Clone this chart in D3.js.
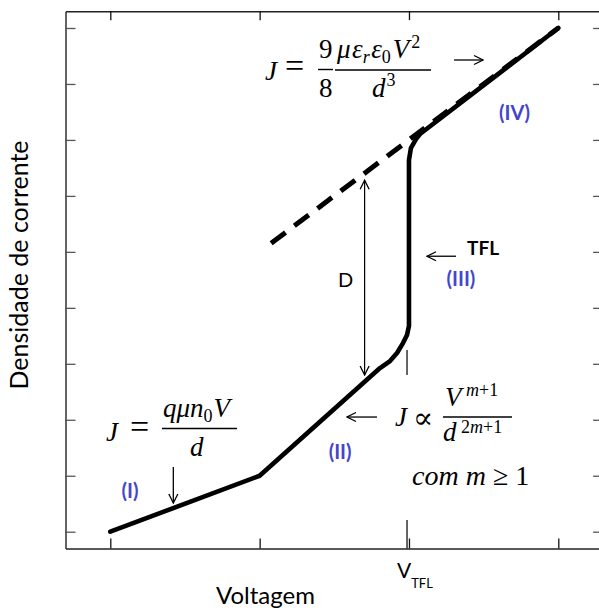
<!DOCTYPE html>
<html>
<head>
<meta charset="utf-8">
<script src="https://cdn.jsdelivr.net/npm/d3@7"></script>
<style>
  body { margin: 0; background: #fff; }
  svg { display: block; }
</style>
</head>
<body>
<div id="chart"></div>
<script>
const WIDTH = 599;
const HEIGHT = 610;
const SANS = 'Lato, "Open Sans", sans-serif';
const SERIF = '"Liberation Serif", "DejaVu Serif", serif';
const BLUE = '#4545cc';
const MATH = 27;
const SUB = 18;

// ticks (no numeric labels in the original)
const xTicks = [1, 2, 3, 4];
const yTicks = [1, 2, 3, 4, 5, 6, 7, 8, 9, 10];

// J-V curve (arbitrary units)
const curveV = [1, 2, 2.806, 2.873, 2.920, 2.960, 2.987, 3.0, 3.0, 3.013, 3.047, 3.074, 4];
const curveJ = [1, 2, 3.924, 4.049, 4.192, 4.370, 4.514, 4.675, 7.641, 7.855, 8.016, 8.106, 10];

// trap-free (Child) law, dashed
const childV = [2.077, 4];
const childJ = [6.155, 10];

// V_TFL guide
const vTFL = 2.987;
const guideJ = [0.7, 4.247];

// annotation arrows: [x1, y1, x2, y2]
const arrows = [
    [3.302, 9.428, 3.496, 9.428],
    [1.422, 2.156, 1.422, 1.513],
    [2.786, 3.049, 2.585, 3.049],
    [3.315, 5.922, 3.121, 5.922]
];
const dArrow = [2.703, 3.80, 2.703, 7.28];

// region labels: [text, x, y]
const regions = [
    ['(I)', 1.132, 1.602],
    ['(II)', 2.539, 2.299],
    ['(III)', 3.348, 5.392],
    ['(IV)', 3.707, 8.356]
];

const x = d3.scaleLinear().domain([0.7, 4.3]).range([65.5, 603.1]);
const y = d3.scaleLinear().domain([0.7, 10.3]).range([548.5, 11.2]);

const svg = d3.select('#chart')
    .append('svg')
    .attr('width', WIDTH)
    .attr('height', HEIGHT);

const defs = svg.append('defs');
defs.append('marker')
    .attr('id', 'arr')
    .attr('viewBox', '-11 -6 12 12')
    .attr('refX', 0)
    .attr('refY', 0)
    .attr('markerWidth', 12)
    .attr('markerHeight', 12)
    .attr('markerUnits', 'userSpaceOnUse')
    .attr('orient', 'auto-start-reverse')
    .append('path')
    .attr('d', 'M-9,-4.5L0,0L-9,4.5')
    .attr('fill', 'none')
    .attr('stroke', '#000')
    .attr('stroke-width', 1.3);

// axes, ticks pointing inwards
function styleAxis(g, color) {
    g.selectAll('path').attr('stroke', '#222').attr('stroke-width', 1.4);
    g.selectAll('line').attr('stroke', color).attr('stroke-width', 1.3);
}
svg.append('g')
    .attr('transform', `translate(0,${y(0.7)})`)
    .call(d3.axisBottom(x).tickValues(xTicks).tickSize(-10).tickSizeOuter(0).tickFormat(''))
    .call(g => styleAxis(g, '#111'));
svg.append('g')
    .attr('transform', `translate(0,${y(10.3)})`)
    .call(d3.axisTop(x).tickValues(xTicks).tickSize(-9).tickSizeOuter(0).tickFormat(''))
    .call(g => styleAxis(g, '#111'));
svg.append('g')
    .attr('transform', `translate(${x(0.7)},0)`)
    .call(d3.axisLeft(y).tickValues(yTicks).tickSize(-10).tickSizeOuter(0).tickFormat(''))
    .call(g => styleAxis(g, '#555'));
svg.append('g')
    .attr('transform', `translate(${x(4.3)},0)`)
    .call(d3.axisRight(y).tickValues(yTicks).tickSize(-10).tickSizeOuter(0).tickFormat(''))
    .call(g => styleAxis(g, '#555'));

// V_TFL guide line
svg.append('line')
    .attr('x1', x(vTFL)).attr('x2', x(vTFL))
    .attr('y1', y(guideJ[0])).attr('y2', y(guideJ[1]))
    .attr('stroke', '#000')
    .attr('stroke-width', 1.2);

// curves
const line = d3.line().x(d => x(d[0])).y(d => y(d[1]));

svg.append('path')
    .datum(childV.map((v, i) => [v, childJ[i]]))
    .attr('d', line)
    .attr('fill', 'none')
    .attr('stroke', '#000')
    .attr('stroke-width', 5)
    .attr('stroke-dasharray', '18,11');

svg.append('path')
    .datum(curveV.map((v, i) => [v, curveJ[i]]))
    .attr('d', line)
    .attr('fill', 'none')
    .attr('stroke', '#000')
    .attr('stroke-width', 4.6)
    .attr('stroke-linejoin', 'round')
    .attr('stroke-linecap', 'round');

// arrows
svg.selectAll('line.arrow')
    .data(arrows)
    .enter()
    .append('line')
    .attr('class', 'arrow')
    .attr('x1', d => x(d[0])).attr('y1', d => y(d[1]))
    .attr('x2', d => x(d[2])).attr('y2', d => y(d[3]))
    .attr('stroke', '#000')
    .attr('stroke-width', 1.3)
    .attr('marker-end', 'url(#arr)');

svg.append('line')
    .attr('x1', x(dArrow[0])).attr('y1', y(dArrow[1]))
    .attr('x2', x(dArrow[2])).attr('y2', y(dArrow[3]))
    .attr('stroke', '#000')
    .attr('stroke-width', 1.2)
    .attr('marker-start', 'url(#arr)')
    .attr('marker-end', 'url(#arr)');

// region labels
svg.selectAll('text.region')
    .data(regions)
    .enter()
    .append('text')
    .attr('class', 'region')
    .attr('x', d => x(d[1]))
    .attr('y', d => y(d[2]))
    .attr('text-anchor', 'middle')
    .attr('font-family', SANS)
    .attr('font-weight', 'bold')
    .attr('font-size', 20)
    .attr('fill', BLUE)
    .text(d => d[0]);

// plain labels
function label(txt, px, py, size, weight) {
    return svg.append('text')
        .attr('x', px).attr('y', py)
        .attr('font-family', SANS)
        .attr('font-size', size)
        .attr('font-weight', weight || 'normal')
        .attr('fill', '#000')
        .text(txt);
}
label('TFL', 467, 255, 19, 'bold');
label('D', 338, 287, 20);
label('Voltagem', 265.5, 604, 24).attr('text-anchor', 'middle');
label('Densidade de corrente', 0, 0, 25)
    .attr('text-anchor', 'middle')
    .attr('transform', 'translate(28,265) rotate(-90)');
const vt = svg.append('text')
    .attr('x', x(3) - 12).attr('y', 578)
    .attr('font-family', SANS)
    .attr('font-size', 21);
vt.append('tspan').text('V');
vt.append('tspan').text('TFL').attr('font-size', 13).attr('dy', 10);

// math: runs of [text, italic, size, baseline offset, extra gap before]
function math(px, py, runs) {
    const t = svg.append('text')
        .attr('x', px).attr('y', py)
        .attr('font-family', SERIF)
        .attr('font-size', MATH)
        .attr('fill', '#000');
    let cur = 0;
    runs.forEach(r => {
        const off = r[3] || 0;
        t.append('tspan')
            .text(r[0])
            .attr('font-style', r[1] ? 'italic' : 'normal')
            .attr('font-size', r[2] || MATH)
            .attr('dx', r[4] || 0)
            .attr('dy', off - cur);
        cur = off;
    });
    return t;
}
function bar(x1, x2, py) {
    svg.append('line')
        .attr('x1', x1).attr('x2', x2)
        .attr('y1', py).attr('y2', py)
        .attr('stroke', '#000')
        .attr('stroke-width', 1.4);
}

// J = 9/8 mu eps_r eps_0 V^2 / d^3
math(265, 80, [['J', 1]]);
math(285, 77, [['=', 0, 34]]);
math(319, 58, [['9', 0]]);
math(319, 97, [['8', 0]]);
bar(318, 333, 69.5);
bar(335, 431, 70);
math(337, 58, [['μ', 1], ['ε', 1, MATH, 0, 1.5], ['r', 1, SUB, 5], ['ε', 1, MATH, 0, 1.5],
    ['0', 0, SUB, 5], ['V', 1, MATH, 0, 2], ['2', 0, SUB, -10, 2]]);
math(372, 97, [['d', 1], ['3', 0, SUB, -11, 1]]);

// J = q mu n_0 V / d
math(106, 441, [['J', 1]]);
math(130, 438, [['=', 0, 34]]);
bar(162, 237, 428.5);
math(163, 417, [['qμn', 1], ['0', 0, SUB, 5], ['V', 1, MATH, 0, 1]]);
math(190, 456, [['d', 1]]);

// J ~ V^(m+1) / d^(2m+1), com m >= 1
svg.append('rect')
    .attr('x', 395).attr('y', 375)
    .attr('width', 145).attr('height', 145)
    .attr('fill', '#fff');
math(395, 426, [['J', 1]]);
math(413, 428, [['∝', 0, 30]]);
bar(443, 512, 417);
math(445, 406, [['V', 1], [' m', 1, SUB, -10], ['+1', 0, SUB, -10]]);
math(443, 441, [['d', 1], [' 2', 0, SUB, -8], ['m', 1, SUB, -8], ['+1', 0, SUB, -8]]);
math(412, 485, [['com m', 1, 28], [' ≥ 1', 0, 28]]);
</script>
</body>
</html>
